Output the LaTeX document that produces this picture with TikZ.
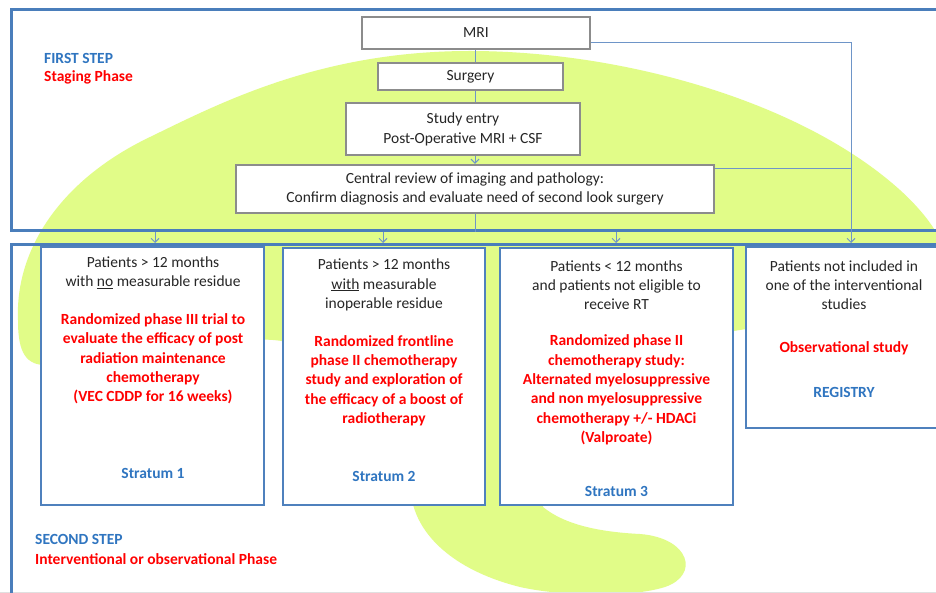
\documentclass[tikz,border=0pt]{standalone}
\usepackage{fontspec}
\setmainfont{Carlito}
\usetikzlibrary{arrows.meta}
\definecolor{blob}{HTML}{E1FC88}
\definecolor{frameblue}{HTML}{4A7EBB}
\definecolor{boxblue}{HTML}{4F81BD}
\definecolor{txtblue}{HTML}{2F75C0}
\definecolor{txtred}{HTML}{FF0000}
\definecolor{boxgray}{HTML}{8C8C8C}
\definecolor{txtdark}{HTML}{262626}
\definecolor{linkblue}{HTML}{6E95C8}
\begin{document}
\begin{tikzpicture}[x=1pt,y=-1pt,
  base/.style={font=\fontsize{15.5}{19.3}\selectfont, text=txtdark, align=center, inner sep=0pt},
  redtxt/.style={base, text=txtred, font=\fontsize{15.5}{19.3}\selectfont\bfseries},
  bluetxt/.style={base, text=txtblue, font=\fontsize{15.5}{19.3}\selectfont\bfseries},
  graybox/.style={draw=boxgray, line width=2.4pt, fill=white, inner sep=0pt},
  bluebox/.style={draw=boxblue, line width=2.6pt, fill=white, inner sep=0pt},
  framebox/.style={draw=frameblue, line width=2.6pt, inner sep=0pt},
  link/.style={draw=linkblue, line width=1pt},
  arr/.style={link, -{Straight Barb[length=4pt,width=8pt]}},
]
\useasboundingbox (0,0) rectangle (936,593);
\fill[white] (0,0) rectangle (936,593);
\clip (0,0) rectangle (936,593);

% green background shape
\fill[blob] (470,51) .. controls (620,51) and (800,100) .. (900,190)
  .. controls (935,222) and (955,255) .. (945,285)
  .. controls (930,320) and (800,320) .. (740,330)
  .. controls (640,345) and (560,430) .. (543,507)
  .. controls (565,525) and (600,532) .. (640,534)
  .. controls (690,538) and (700,575) .. (665,587)
  .. controls (630,598) and (560,596) .. (520,587)
  .. controls (460,572) and (420,540) .. (412,500)
  .. controls (400,420) and (340,345) .. (273,340)
  .. controls (200,335) and (90,365) .. (45,365)
  .. controls (22,365) and (18,345) .. (18,320)
  .. controls (15,250) and (60,180) .. (150,137)
  .. controls (220,103) and (320,51) .. (470,51) -- cycle;

\draw[draw=black!12, line width=1pt] (0,592) -- (936,592);

% frames
\node[framebox, anchor=north west, minimum width=940pt, minimum height=221pt] (frame1) at (10,8) {};
\node[framebox, anchor=north west, minimum width=940pt, minimum height=400pt] (frame2) at (10,243) {};

% step labels
\node[bluetxt, anchor=west] (first) at (44,58) {FIRST STEP};
\node[redtxt, anchor=west] (staging) at (44,77) {Staging Phase};
\node[bluetxt, anchor=west] (second) at (35,539) {SECOND STEP};
\node[redtxt, anchor=west] (interv) at (35,559) {Interventional or observational Phase};

% top flow boxes
\node[graybox, minimum width=228pt, minimum height=32pt] (mri) at (476,33) {};
\node[base] (mrit) at (mri.center) {MRI};
\node[graybox, minimum width=185pt, minimum height=27pt] (surgery) at (470.5,76.5) {};
\node[base] (surgeryt) at (surgery.center) {Surgery};
\node[graybox, minimum width=234pt, minimum height=52pt] (study) at (463,129) {};
\node[base, font=\fontsize{15.5}{20}\selectfont] (studyt) at (study.center) {Study entry\\Post-Operative MRI + CSF};
\node[graybox, minimum width=478pt, minimum height=48pt] (central) at (475,189) {};
\node[base] (centralt) at (central.center) {Central review of imaging and pathology:\\Confirm diagnosis and evaluate need of second look surgery};

% strata boxes
\node[bluebox, minimum width=223pt, minimum height=258pt] (s1) at (152.5,376) {};
\node[bluebox, minimum width=202pt, minimum height=257pt] (s2) at (384,376.5) {};
\node[bluebox, minimum width=233pt, minimum height=257pt] (s3) at (616.5,376.5) {};
\node[bluebox, minimum width=196pt, minimum height=181pt] (s4) at (844,337.5) {};

% stratum 1 text
\node[base] (s1a) at (153,273) {Patients > 12 months\\with \underline{no} measurable residue};
\node[redtxt] (s1b) at (153,359) {Randomized phase III trial to\\evaluate the efficacy of post\\radiation maintenance\\chemotherapy\\(VEC CDDP for 16 weeks)};
\node[bluetxt] (s1c) at (153,473) {Stratum 1};

% stratum 2 text
\node[base] (s2a) at (384,285) {Patients > 12 months\\\underline{with} measurable\\inoperable residue};
\node[redtxt] (s2b) at (384,380.5) {Randomized frontline\\phase II chemotherapy\\study and exploration of\\the efficacy of a boost of\\radiotherapy};
\node[bluetxt] (s2c) at (384,476) {Stratum 2};

% stratum 3 text
\node[base] (s3a) at (616.5,285) {Patients < 12 months\\and patients not eligible to\\receive RT};
\node[redtxt] (s3b) at (616.5,390) {Randomized phase II\\chemotherapy study:\\Alternated myelosuppressive\\and non myelosuppressive\\chemotherapy +/- HDACi\\(Valproate)};
\node[bluetxt] (s3c) at (616.5,491) {Stratum 3};

% registry text
\node[base] (s4a) at (844,285) {Patients not included in\\one of the interventional\\studies};
\node[redtxt] (s4b) at (844,348) {Observational study};
\node[bluetxt] (s4c) at (844,392) {REGISTRY};

% connectors
\coordinate (spine) at (475,0);
\coordinate (c1) at (155,0);
\coordinate (c2) at (383,0);
\coordinate (c3) at (616,0);
\coordinate (c4) at (851,0);
\draw[link] (mri.south -| spine) -- (surgery.north -| spine);
\draw[link] (surgery.south -| spine) -- (study.north -| spine);
\draw[arr] (study.south -| spine) -- (central.north -| spine);
\draw[link] (central.south -| spine) -- (frame1.south -| spine);
\draw[arr] ([yshift=8pt]mri.south east) -| (frame2.north -| c4);
\draw[link] ([yshift=-5pt]central.north east) -- ([yshift=-5pt]central.north east -| c4);
\draw[arr] (frame1.south -| c1) -- (frame2.north -| c1);
\draw[arr] (frame1.south -| c2) -- (frame2.north -| c2);
\draw[arr] (frame1.south -| c3) -- (frame2.north -| c3);
\end{tikzpicture}
\end{document}
